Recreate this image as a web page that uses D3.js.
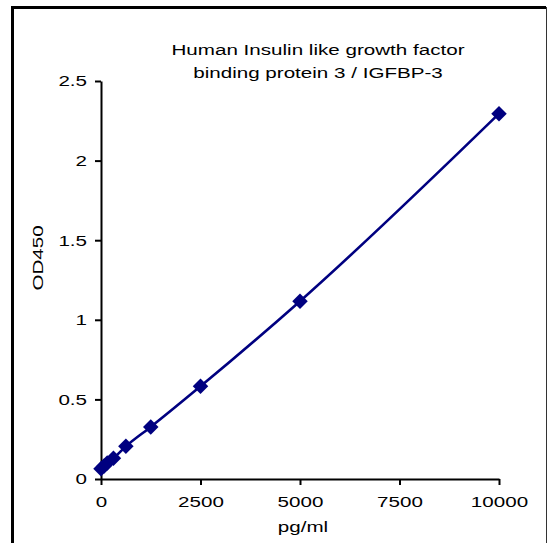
<!DOCTYPE html>
<html>
<head>
<meta charset="utf-8">
<script src="https://cdn.jsdelivr.net/npm/d3@7"></script>
<style>
  body { margin: 0; background: #fff; }
  text { font-family: "Liberation Sans", Arial, sans-serif; }
</style>
</head>
<body>
<div id="container"></div>
<script>
// standard curve
var conc = [0, 78, 156.25, 312.5, 625, 1250, 2500, 5000, 10000];
var od = [0.065, 0.082, 0.1, 0.13, 0.205, 0.327, 0.582, 1.117, 2.295];
var xTicks = [0, 2500, 5000, 7500, 10000];
var yTicks = [0, 0.5, 1, 1.5, 2, 2.5];
var titleLines = ["Human Insulin like growth factor", "binding protein 3 / IGFBP-3"];

var width = 549,
  height = 543;
var fs = "15.5px",
  sx = 1.33; // the original text is stretched sideways

var svg = d3.select("#container")
  .append("svg")
  .attr("width", width)
  .attr("height", height);

// frame
svg.append("path")
  .attr("d", "M12.5,543 V7.5 H546")
  .attr("fill", "none")
  .attr("stroke", "#000")
  .attr("stroke-width", 3);
svg.append("line")
  .attr("x1", 546.5).attr("x2", 546.5)
  .attr("y1", 7).attr("y2", 543)
  .attr("stroke", "#333")
  .attr("stroke-width", 1);

var x = d3.scaleLinear().domain([0, 10000]).range([101, 499]);
var y = d3.scaleLinear().domain([0, 2.5]).range([479, 81]);

var xAxis = svg.append("g")
  .attr("transform", "translate(0,479)")
  .call(d3.axisBottom(x).tickValues(xTicks).tickSize(6).tickSizeOuter(0).tickPadding(11).tickFormat(d3.format("d")));

var yAxis = svg.append("g")
  .attr("transform", "translate(101,0)")
  .call(d3.axisLeft(y).tickValues(yTicks).tickSize(6).tickSizeOuter(0).tickPadding(8).tickFormat(function(d) { return String(d); }));

[xAxis, yAxis].forEach(function(a) {
  a.select(".domain").attr("stroke", "#000").attr("stroke-width", 2);
  a.selectAll(".tick line").attr("stroke", "#000").attr("stroke-width", 2);
  a.selectAll(".tick text")
    .attr("fill", "#000")
    .style("font-size", fs)
    .attr("x", function() { return +d3.select(this).attr("x") / sx; })
    .attr("transform", "scale(" + sx + ",1)");
});

// curve through the points
var line = d3.line()
  .x(function(d, i) { return x(conc[i]); })
  .y(function(d) { return y(d); })
  .curve(d3.curveMonotoneX);

svg.append("path")
  .attr("d", line(od))
  .attr("fill", "none")
  .attr("stroke", "#000080")
  .attr("stroke-width", 2.6);

svg.selectAll("path.pt")
  .data(od)
  .enter()
  .append("path")
  .attr("class", "pt")
  .attr("d", d3.symbol().type(d3.symbolSquare).size(120))
  .attr("transform", function(d, i) { return "translate(" + x(conc[i]) + "," + y(d) + ") rotate(45)"; })
  .attr("fill", "#000080");

// title
svg.selectAll("text.title")
  .data(titleLines)
  .enter()
  .append("text")
  .attr("class", "title")
  .attr("transform", function(d, i) { return "translate(318," + (55 + i * 23) + ") scale(" + sx + ",1)"; })
  .attr("text-anchor", "middle")
  .style("font-size", fs)
  .text(function(d) { return d; });

svg.append("text")
  .attr("transform", "translate(303,532) scale(" + sx + ",1)")
  .attr("text-anchor", "middle")
  .style("font-size", fs)
  .text("pg/ml");

svg.append("text")
  .attr("transform", "translate(43,258) rotate(-90) scale(" + sx + ",1)")
  .attr("text-anchor", "middle")
  .style("font-size", fs)
  .text("OD450");
</script>
</body>
</html>
